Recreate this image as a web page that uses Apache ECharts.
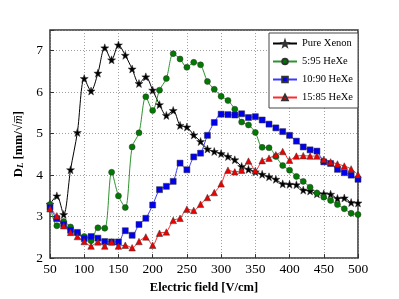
<!DOCTYPE html>
<html>
<head>
<meta charset="utf-8">
<script src="https://cdn.jsdelivr.net/npm/echarts@6/dist/echarts.min.js"></script>
<style>html,body{margin:0;padding:0;background:#fff;}#c{width:399px;height:299px;}</style>
</head>
<body>
<div id="c"></div>
<script>
var fields = [50,60,70,80,90,100,110,120,130,140,150,160,170,180,190,200,210,220,230,240,250,260,270,280,290,300,310,320,330,340,350,360,370,380,390,400,410,420,430,440,450,460,470,480,490,500];
var seriesNames = ['Pure Xenon','5:95 HeXe','10:90 HeXe','15:85 HeXe'];
var pureXenon = [3.30,3.50,3.05,4.13,5.03,6.33,6.03,6.46,7.07,6.78,7.14,6.89,6.56,6.21,6.37,6.05,5.70,5.44,5.56,5.20,5.16,4.97,4.81,4.63,4.57,4.52,4.45,4.37,4.21,4.14,4.08,4.02,3.96,3.90,3.79,3.78,3.77,3.64,3.62,3.55,3.55,3.54,3.44,3.45,3.34,3.33];
var heXe595 = [3.29,2.78,2.88,2.75,2.60,2.52,2.42,2.73,2.72,4.07,3.50,3.22,4.68,5.02,5.89,5.56,6.05,6.33,6.93,6.80,6.60,6.72,6.66,6.26,6.07,5.90,5.80,5.59,5.28,5.21,5.03,4.67,4.66,4.45,4.23,4.12,3.97,3.85,3.71,3.57,3.47,3.39,3.29,3.19,3.08,3.05];
var heXe1090 = [3.22,2.95,2.81,2.67,2.62,2.47,2.52,2.48,2.40,2.39,2.39,2.66,2.55,2.81,2.96,3.28,3.65,3.73,3.85,4.29,4.13,4.44,4.53,4.96,5.27,5.47,5.46,5.45,5.48,5.39,5.41,5.33,5.23,5.14,5.05,4.96,4.82,4.68,4.61,4.58,4.32,4.28,4.14,4.06,4.00,3.90];
var heXe1585 = [3.19,3.02,2.78,2.62,2.52,2.40,2.29,2.39,2.29,2.39,2.29,2.31,2.25,2.40,2.51,2.31,2.60,2.63,2.91,2.96,3.18,3.15,3.30,3.46,3.58,3.79,4.12,4.08,4.12,4.34,4.11,4.35,4.41,4.49,4.57,4.36,4.46,4.47,4.46,4.46,4.38,4.32,4.27,4.22,4.15,4.01];
var xTicks = [50,100,150,200,250,300,350,400,450,500];
var yTicks = [2,3,4,5,6,7];

function pairs(ys){ return fields.map(function(x,i){ return [x, ys[i]]; }); }

var starPath = 'path://M0,-10L2.35,-3.24L9.51,-3.09L3.8,1.24L5.88,8.09L0,4.2L-5.88,8.09L-3.8,1.24L-9.51,-3.09L-2.35,-3.24Z';
var serif = 'Liberation Serif';

function mk(name, ys, color, lineColor, symbol, size){
  return {
    name: name, type: 'line', data: pairs(ys), smooth: 0.3,
    symbol: symbol, symbolSize: size, showSymbol: true,
    lineStyle: {color: lineColor, width: 1},
    itemStyle: {color: color, borderColor: '#333', borderWidth: 0.5},
    emphasis: {disabled: true}, animation: false
  };
}

var chart = echarts.init(document.getElementById('c'), null, {renderer: 'canvas'});
chart.setOption({
  animation: false,
  backgroundColor: '#fff',
  grid: {left: 50, right: 41, top: 30, bottom: 32, show: true, borderColor: '#333', borderWidth: 1.5, backgroundColor: 'transparent'},
  legend: {
    data: seriesNames, orient: 'vertical', left: 269, top: 33,
    backgroundColor: '#fff', borderColor: '#444', borderWidth: 1,
    padding: [5, 5, 5, 3], itemWidth: 24, itemHeight: 7, itemGap: 7,
    textStyle: {fontFamily: serif, fontSize: 10.5, color: '#000'}
  },
  xAxis: {
    type: 'value', min: 50, max: 500, interval: 50,
    name: 'Electric field [V/cm]', nameLocation: 'middle', nameGap: 19,
    nameTextStyle: {fontFamily: serif, fontWeight: 'bold', fontSize: 12.5, color: '#000'},
    axisLine: {show: false},
    axisTick: {show: true, inside: true, length: 4, lineStyle: {color: '#333'}},
    axisLabel: {fontFamily: serif, fontSize: 13.5, color: '#000', margin: 4,
      formatter: function(v){ return xTicks.indexOf(v) >= 0 ? String(v) : ''; }},
    splitLine: {show: true, lineStyle: {type: [1, 2], color: '#888', width: 0.8}}
  },
  yAxis: {
    type: 'value', min: 2, max: 7.5, interval: 1,
    name: '{b|D}{sub|L}{b| [mm/√}{it|m\u0305}{b|]}', nameLocation: 'middle', nameGap: 17,
    nameTextStyle: {fontFamily: serif, fontSize: 12.5, color: '#000',
      rich: {
        b: {fontFamily: serif, fontWeight: 'bold', fontSize: 12.5, color: '#000'},
        sub: {fontFamily: serif, fontWeight: 'bold', fontStyle: 'italic', fontSize: 9, color: '#000', verticalAlign: 'bottom', padding: [5,0,0,0]},
        it: {fontFamily: serif, fontStyle: 'italic', fontSize: 12.5, color: '#000'}
      }},
    axisLine: {show: false},
    axisTick: {show: true, inside: true, length: 4, lineStyle: {color: '#333'}},
    axisLabel: {fontFamily: serif, fontSize: 13.5, color: '#000', margin: 7,
      formatter: function(v){ return yTicks.indexOf(v) >= 0 ? String(v) : ''; }},
    splitLine: {show: true, lineStyle: {type: [1, 2], color: '#888', width: 0.8}}
  },
  series: [
    mk(seriesNames[0], pureXenon, '#000', '#000', starPath, 8),
    mk(seriesNames[1], heXe595, '#007a00', '#2e922e', 'circle', 6),
    mk(seriesNames[2], heXe1090, '#0000ee', '#3a3aff', 'rect', 6),
    mk(seriesNames[3], heXe1585, '#ee0000', '#ff2a2a', 'triangle', 6.5)
  ]
});
</script>
</body>
</html>
